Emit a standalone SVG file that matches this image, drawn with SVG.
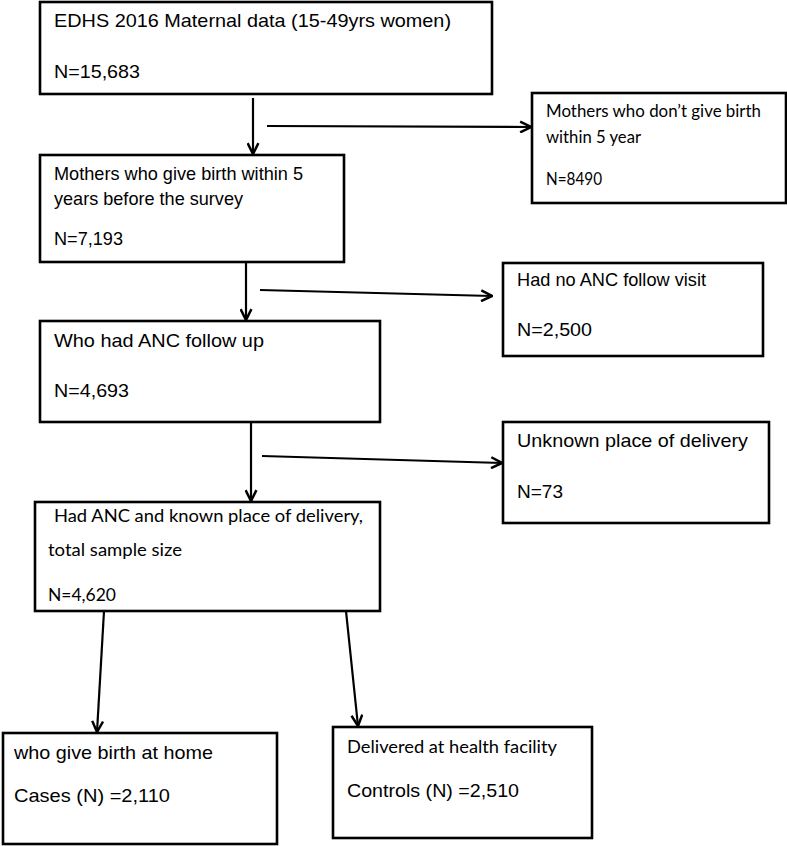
<svg xmlns="http://www.w3.org/2000/svg" width="787" height="846" viewBox="0 0 787 846">
<style>
.box{fill:#fff;stroke:#000;stroke-width:2.6}
.a{font-family:"Liberation Sans",Arial,sans-serif;font-size:19px;fill:#000}
.c{font-family:Lato,"Open Sans",sans-serif;font-size:18px;fill:#000}
.conn line{stroke:#000;stroke-width:2.2;fill:none}
</style>
<defs>
<marker id="arr" markerUnits="userSpaceOnUse" viewBox="0 0 12 12" refX="11" refY="6" markerWidth="13" markerHeight="13" orient="auto">
<path d="M1,1 L11,6 L1,11" fill="none" stroke="#000" stroke-width="2.3"/>
</marker>
</defs>
<rect width="787" height="846" fill="#fff"/>
<g id="n1">
<rect class="box" x="40" y="2" width="452" height="92"/>
<text class="a" x="54" y="27" textLength="397" lengthAdjust="spacingAndGlyphs">EDHS 2016 Maternal data (15-49yrs women)</text>
<text class="a" x="54" y="78" textLength="86" lengthAdjust="spacingAndGlyphs">N=15,683</text>
</g>
<g id="n2">
<rect class="box" x="532" y="93" width="254" height="110"/>
<text class="c" x="546" y="117" textLength="215" lengthAdjust="spacingAndGlyphs">Mothers who don’t give birth</text>
<text class="c" x="546" y="143" textLength="95" lengthAdjust="spacingAndGlyphs">within 5 year</text>
<text class="c" x="546" y="185" textLength="56" lengthAdjust="spacingAndGlyphs">N=8490</text>
</g>
<g id="n3">
<rect class="box" x="40" y="155" width="304" height="107"/>
<text class="a" x="54" y="180" textLength="249" lengthAdjust="spacingAndGlyphs">Mothers who give birth within 5</text>
<text class="a" x="54" y="205" textLength="189" lengthAdjust="spacingAndGlyphs">years before the survey</text>
<text class="a" x="54" y="245" textLength="69" lengthAdjust="spacingAndGlyphs">N=7,193</text>
</g>
<g id="n4">
<rect class="box" x="503" y="263" width="260" height="93"/>
<text class="a" x="517" y="286" textLength="189" lengthAdjust="spacingAndGlyphs">Had no ANC follow visit</text>
<text class="a" x="517" y="336" textLength="75" lengthAdjust="spacingAndGlyphs">N=2,500</text>
</g>
<g id="n5">
<rect class="box" x="40" y="321" width="340" height="101"/>
<text class="a" x="54" y="347" textLength="210" lengthAdjust="spacingAndGlyphs">Who had ANC follow up</text>
<text class="a" x="54" y="397" textLength="75" lengthAdjust="spacingAndGlyphs">N=4,693</text>
</g>
<g id="n6">
<rect class="box" x="503" y="422" width="266" height="101"/>
<text class="a" x="517" y="447" textLength="231" lengthAdjust="spacingAndGlyphs">Unknown place of delivery</text>
<text class="a" x="517" y="498" textLength="46" lengthAdjust="spacingAndGlyphs">N=73</text>
</g>
<g id="n7">
<rect class="box" x="35" y="502" width="345" height="109"/>
<text class="c" x="54" y="522" textLength="309" lengthAdjust="spacingAndGlyphs">Had ANC and known place of delivery,</text>
<text class="c" x="48" y="556" textLength="134" lengthAdjust="spacingAndGlyphs">total sample size</text>
<text class="c" x="48" y="601" textLength="68" lengthAdjust="spacingAndGlyphs">N=4,620</text>
</g>
<g id="n8">
<rect class="box" x="3" y="733" width="274" height="111"/>
<text class="a" x="14" y="759" textLength="199" lengthAdjust="spacingAndGlyphs">who give birth at home</text>
<text class="a" x="14" y="802" textLength="156" lengthAdjust="spacingAndGlyphs">Cases (N) =2,110</text>
</g>
<g id="n9">
<rect class="box" x="333" y="727" width="259" height="111"/>
<text class="c" x="347" y="753" textLength="210" lengthAdjust="spacingAndGlyphs">Delivered at health facility</text>
<text class="a" x="347" y="797" textLength="172" lengthAdjust="spacingAndGlyphs">Controls (N) =2,510</text>
</g>
<g id="connectors" class="conn">
<line x1="253" y1="98" x2="253" y2="154" marker-end="url(#arr)"/>
<line x1="267" y1="126" x2="531" y2="127" marker-end="url(#arr)"/>
<line x1="246" y1="263" x2="246" y2="320" marker-end="url(#arr)"/>
<line x1="260" y1="290" x2="492" y2="296" marker-end="url(#arr)"/>
<line x1="251" y1="422" x2="251" y2="501" marker-end="url(#arr)"/>
<line x1="262" y1="456" x2="502" y2="463" marker-end="url(#arr)"/>
<line x1="104" y1="611" x2="97" y2="732" marker-end="url(#arr)"/>
<line x1="346" y1="611" x2="358" y2="726" marker-end="url(#arr)"/>
</g>
</svg>
